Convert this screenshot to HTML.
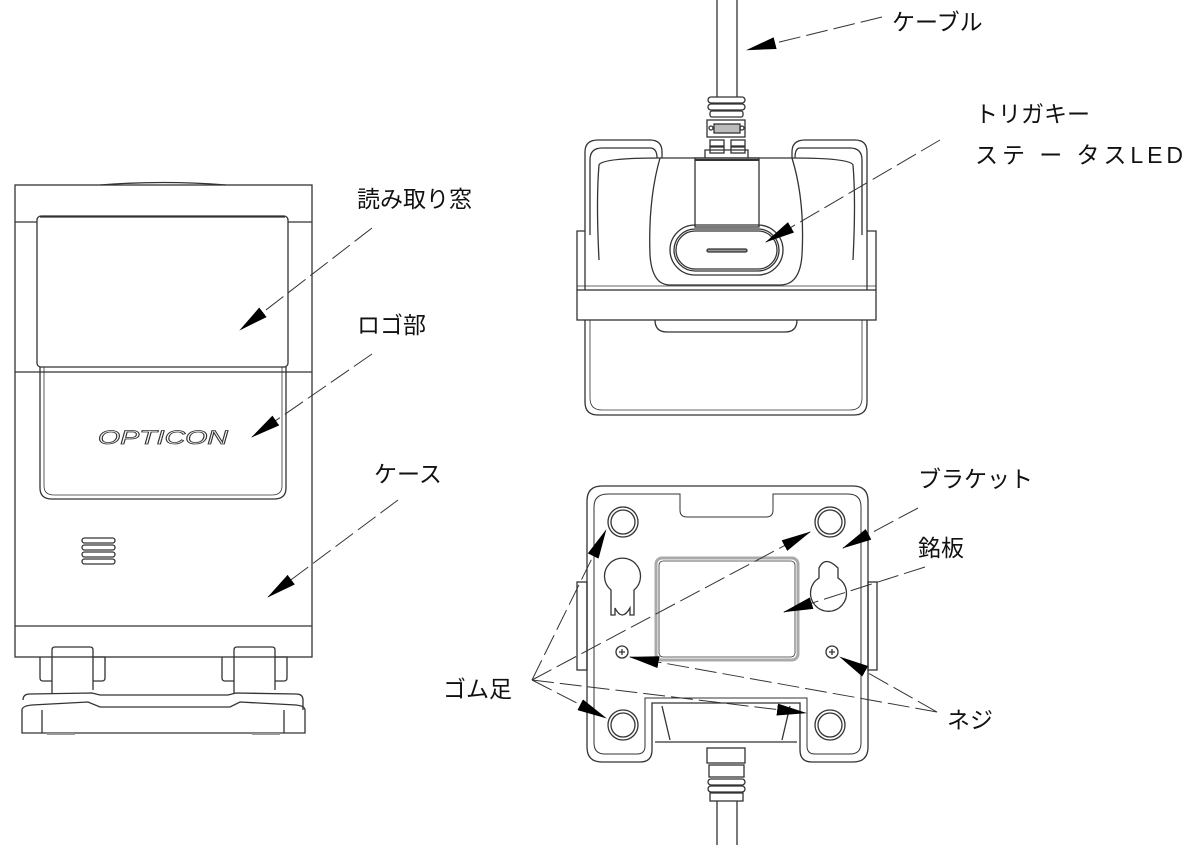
<!DOCTYPE html>
<html><head><meta charset="utf-8"><style>
html,body{margin:0;padding:0;background:#fff}
svg{display:block}
text{font-family:"Liberation Sans","Noto Sans CJK JP",sans-serif;font-size:23px;fill:#111}
</style></head><body>
<svg width="1194" height="860" viewBox="0 0 1194 860" xmlns="http://www.w3.org/2000/svg">
<defs>
<marker id="a" markerUnits="userSpaceOnUse" markerWidth="30" markerHeight="12" refX="29" refY="6" orient="auto">
<path d="M0,0 L30,6 L0,12 z" fill="#000"/>
</marker>
</defs>
<g fill="none" stroke="#333" stroke-width="1.3">
<!-- LEFT DEVICE -->
<rect x="15" y="185" width="297" height="472"/>
<path d="M100,185 Q163,180 226,185" />
<line x1="15" y1="222" x2="37" y2="222"/><line x1="288" y1="222" x2="312" y2="222"/>
<rect x="37" y="216" width="251" height="151" rx="4"/>
<line x1="40" y1="217" x2="285" y2="217"/>
<line x1="15" y1="372" x2="312" y2="372"/>
<path d="M40,367 L40,488 Q40,499 52,499 L274,499 Q286,499 286,488 L286,367"/>
<path d="M44,367 L44,486 Q44,495 54,495 L272,495 Q282,495 282,486 L282,367" stroke-width="0.8"/>
<text x="98" y="444" style="font-size:19px;font-style:italic;fill:none;stroke:#333;stroke-width:0.8" textLength="130" lengthAdjust="spacingAndGlyphs">OPTICON</text>
<rect x="82" y="538" width="33" height="5" rx="2.5"/><rect x="82" y="545" width="33" height="5" rx="2.5"/><rect x="82" y="552" width="33" height="5" rx="2.5"/><rect x="82" y="559" width="33" height="5" rx="2.5"/>
<line x1="15" y1="626" x2="312" y2="626"/>
<path d="M52,693 L52,650 Q52,647 55,647 L90,647 Q93,647 93,650 L93,690"/>
<path d="M40,657 L40,678 Q40,681 43,681 L52,681"/><path d="M93,657 L105,657 L105,678 Q105,681 102,681 L93,681"/>
<path d="M234,693 L234,650 Q234,647 237,647 L272,647 Q275,647 275,650 L275,690"/>
<path d="M222,657 L222,678 Q222,681 225,681 L234,681"/><path d="M275,657 L287,657 L287,678 Q287,681 284,681 L275,681"/>
<path d="M23,700 Q23,694 30,694 L92,693 L100,695 L228,695 L236,693 L296,694 Q303,694 303,700 L303,710"/>
<path d="M22,710 L22,733 L305,733 L305,710 Q305,706 296,705 L240,702 L230,707 L100,707 L88,702 L32,705 Q22,706 22,710 z"/>
<line x1="42" y1="710" x2="42" y2="733"/><line x1="284" y1="710" x2="284" y2="733"/>
<line x1="47" y1="734" x2="75" y2="734" stroke="#999" stroke-width="2"/><line x1="252" y1="734" x2="280" y2="734" stroke="#999" stroke-width="2"/>

<!-- TOP RIGHT DEVICE -->
<line x1="717" y1="0" x2="717" y2="97"/><line x1="737" y1="0" x2="737" y2="97"/>
<rect x="708" y="97" width="37" height="6" rx="3"/><rect x="708" y="104" width="37" height="6" rx="3"/><rect x="710" y="111" width="33" height="6" rx="2"/>
<rect x="707" y="120" width="38" height="17"/><rect x="714" y="124" width="26" height="9" fill="#bbb"/>
<circle cx="711" cy="128" r="2"/><circle cx="742" cy="128" r="2"/>
<rect x="710" y="140" width="14" height="6"/><rect x="731" y="140" width="14" height="6"/><rect x="710" y="147" width="14" height="6"/><rect x="731" y="147" width="14" height="6"/>
<path d="M705,158 L705,150 L748,150 L748,158"/>
<path d="M585,290 L585,152 Q585,140 598,140 L650,140 Q662,140 662,152 L662,158"/>
<path d="M590,235 L590,160 Q590,148 602,148 L650,148 Q657,148 657,158"/>
<path d="M599,260 Q596,200 599,165 Q602,158 660,158"/>
<path d="M792,158 L792,152 Q792,140 805,140 L855,140 Q867,140 867,152 L867,290"/>
<path d="M862,235 L862,160 Q862,148 850,148 L800,148 Q795,148 795,158"/>
<path d="M853,260 Q856,200 853,165 Q850,158 792,158"/>
<line x1="660" y1="158" x2="792" y2="158"/>
<path d="M660,158 Q648,200 650,255 Q652,285 670,285 L780,285 Q800,285 802,255 Q805,200 792,158"/>
<rect x="695" y="158" width="64" height="69"/>
<line x1="695" y1="160" x2="759" y2="160" stroke-width="2"/>
<rect x="670" y="225" width="113" height="50" rx="25"/>
<rect x="674" y="229" width="105" height="42" rx="21"/>
<rect x="676" y="231" width="101" height="38" rx="19"/>
<rect x="707" y="249" width="40" height="3" rx="1.5" fill="#999"/>
<path d="M577,290 L577,231 L585,231"/><path d="M876,290 L876,231 L867,231"/>
<rect x="577" y="290" width="299" height="30"/>
<line x1="577" y1="286" x2="876" y2="286" stroke-width="0.8"/>
<path d="M585,320 L585,402 Q585,415 598,415 L854,415 Q867,415 867,402 L867,320"/>
<path d="M590,320 L590,398 Q590,410 602,410 L850,410 Q862,410 862,398 L862,320" stroke-width="0.8"/>
<path d="M655,320 Q655,332 667,332 L785,332 Q797,332 797,320"/>

<!-- BOTTOM RIGHT DEVICE -->
<path d="M602,486 L853,486 Q868,486 868,501 L868,747 Q868,762 853,762 L812,762 Q800,762 800,750 L800,703 L652,703 L652,750 Q652,762 640,762 L602,762 Q587,762 587,747 L587,501 Q587,486 602,486 z"/>
<path d="M608,494 L680,494 L680,510 Q680,517 687,517 L766,517 Q773,517 773,510 L773,494 L848,494 Q861,494 861,507 L861,743 Q861,754 850,754 L815,754 Q807,754 807,746 L807,698 L645,698 L645,746 Q645,754 637,754 L605,754 Q594,754 594,743 L594,507 Q594,494 608,494 z" stroke-width="1"/>
<line x1="655" y1="742" x2="797" y2="742"/>
<path d="M662,706 L670,740 M790,706 L782,740"/>
<circle cx="623" cy="522" r="15"/><circle cx="623" cy="522" r="12"/>
<circle cx="830" cy="522" r="15"/><circle cx="830" cy="522" r="12"/>
<circle cx="623" cy="725" r="15"/><circle cx="623" cy="725" r="12"/>
<circle cx="830" cy="725" r="15"/><circle cx="830" cy="725" r="12"/>
<path d="M611,590 A18,18 0 1 1 634,590 L634,615 Q634,615 630,615 L630,608 Q622,622 615,608 L615,615 L611,615 z"/>
<path d="M819,578 L819,568 Q825,555 838,568 L838,578 A18,18 0 1 1 819,578 z"/>
<rect x="656" y="558" width="142" height="102" rx="6" stroke="#aaa" stroke-width="3"/>
<rect x="659" y="561" width="136" height="96" rx="4" stroke-width="0.8"/>
<circle cx="622" cy="652" r="6"/><path d="M619,652 h6 M622,649 v6"/>
<circle cx="832" cy="652" r="6"/><path d="M829,652 h6 M832,649 v6"/>
<rect x="577" y="582" width="10" height="88"/>
<rect x="868" y="582" width="9" height="88"/>
<rect x="707" y="748" width="38" height="15"/><rect x="709" y="765" width="35" height="12"/>
<rect x="708" y="779" width="37" height="6" rx="3"/><rect x="708" y="786" width="37" height="6" rx="3"/><rect x="710" y="793" width="33" height="8"/>
<line x1="717" y1="801" x2="717" y2="845"/><line x1="737" y1="801" x2="737" y2="845"/>
</g>

<!-- LEADERS -->
<g fill="none" stroke="#333" stroke-width="1" stroke-dasharray="22 6" marker-end="url(#a)">
<line x1="882" y1="17" x2="747" y2="50"/>
<line x1="940" y1="140" x2="766" y2="242"/>
<line x1="372" y1="228" x2="240" y2="330"/>
<line x1="372" y1="354" x2="252" y2="437"/>
<line x1="398" y1="500" x2="268" y2="597"/>
<line x1="918" y1="508" x2="843" y2="548"/>
<line x1="925" y1="567" x2="784" y2="612"/>
<line x1="532" y1="680" x2="606" y2="530"/>
<line x1="532" y1="680" x2="810" y2="532"/>
<line x1="532" y1="680" x2="606" y2="718"/>
<line x1="532" y1="680" x2="806" y2="713"/>
<line x1="937" y1="712" x2="630" y2="657"/>
<line x1="937" y1="712" x2="840" y2="657"/>
</g>

<!-- LABELS -->
<text x="892" y="30">ケーブル</text>
<text x="975" y="122">トリガキー</text>
<text x="975" y="163" textLength="208" lengthAdjust="spacing">ステ ー タスLED</text>
<text x="357" y="207">読み取り窓</text>
<text x="357" y="333">ロゴ部</text>
<text x="374" y="482">ケース</text>
<text x="918" y="487">ブラケット</text>
<text x="918" y="556">銘板</text>
<text x="443" y="697">ゴム足</text>
<text x="947" y="728">ネジ</text>
</svg>
</body></html>
